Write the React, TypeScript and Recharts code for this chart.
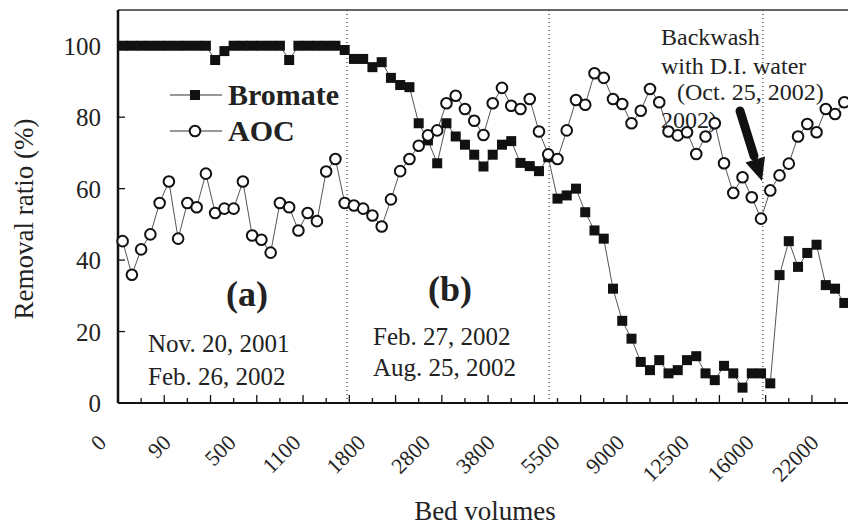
import React from "react";
import {
  LineChart,
  Line,
  XAxis,
  YAxis,
  ReferenceLine,
  Legend,
  Customized,
} from "recharts";

// removal ratio (%) per sampling point
const bromate = [
  100, 100, 100, 100, 100, 100, 100, 100, 100, 100, 96, 98.5, 100, 100, 100, 100,
  100, 100, 96, 100, 100, 100, 100, 100, 98.8, 96.3, 96.3, 94, 95.4, 91, 89, 88.4,
  78.3, 73.5, 67.1, 78.3, 74.6, 72.3, 69.5, 66.2, 69.5, 72.3, 73.3, 67.2, 66.3,
  64.9, 68.8, 57.2, 58.1, 60, 53.4, 48.3, 46, 32, 23, 18, 11.5, 9.2, 12, 8.3, 9.2,
  12, 13.1, 8.3, 6.4, 10.4, 8.3, 4.3, 8.3, 8.3, 5.5, 35.8, 45.3, 38.1, 42, 44.3,
  33, 32, 28,
];

const aoc = [
  45.3, 35.9, 43, 47.2, 56, 62, 46, 56, 54.8, 64.2, 53.2, 54.4, 54.4, 62, 46.9,
  45.7, 42.1, 56, 54.8, 48.3, 53.2, 50.9, 64.8, 68.3, 56, 55.3, 54.4, 52.5, 49.4,
  57, 64.9, 68.3, 72, 74.9, 76.3, 83.9, 86, 82.3, 79, 75, 83.9, 88.2, 83.2, 82.3,
  85.1, 76, 69.6, 68.3, 76.3, 84.8, 83.5, 92.3, 91, 85.1, 83.7, 78.3, 81.8, 87.9,
  84.2, 76, 74.9, 75.8, 69.7, 74.6, 78.3, 67.1, 58.8, 63.2, 57.6, 51.6, 59.5, 63.7,
  67, 74.6, 78.1, 75.8, 82.3, 80.9, 84.2,
];

const xLabels = ["0", "90", "500", "1100", "1800", "2800", "3800", "5500", "9000", "12500", "16000", "22000"];
const labelEvery = 7;
const tickStep = 2.5;
const yTicks = [0, 20, 40, 60, 80, 100];
const periodBreaks = [24.75, 46.6, 69.7];

const data = bromate.map((b, i) => ({ u: i + 0.5, bromate: b, aoc: aoc[i] }));
const xMax = 78.9;

const labelPos = xLabels.map((_, k) => k * labelEvery + 0.5);
const markPos: number[] = [];
for (let t = tickStep; t < xMax; t += tickStep) markPos.push(t);
const allTicks = Array.from(new Set([...markPos, ...labelPos])).sort((a, b) => a - b);

const FONT = "'Liberation Serif', 'Times New Roman', serif";
const near = (a: number, b: number) => Math.abs(a - b) < 1e-6;

const XTick = (props: any) => {
  const { x, y, payload } = props;
  const v = payload.value;
  const isMark = markPos.some((m) => near(m, v));
  const major = isMark && near(v % 5, 0);
  const li = labelPos.findIndex((p) => near(p, v));
  const tx = x - 15;
  const ty = y + 41;
  return (
    <g>
      {isMark && (
        <line x1={x} x2={x} y1={y} y2={y - (major ? 8 : 5)} stroke="#111" strokeWidth={1.3} />
      )}
      {li >= 0 && (
        <text
          x={tx}
          y={ty}
          textAnchor="end"
          transform={`rotate(-45 ${tx} ${ty})`}
          fontSize={22}
          fontFamily={FONT}
          fill="#222"
        >
          {xLabels[li]}
        </text>
      )}
    </g>
  );
};

const YTick = (props: any) => {
  const { x, y, payload } = props;
  return (
    <g>
      <line x1={x} x2={x + 7} y1={y} y2={y} stroke="#111" strokeWidth={1.3} />
      <text x={x - 17} y={y + 9} textAnchor="end" fontSize={25} fontFamily={FONT} fill="#222">
        {payload.value}
      </text>
    </g>
  );
};

const SquareDot = (p: any) => (
  <rect key={`b${p.index}`} x={p.cx - 5} y={p.cy - 5} width={10} height={10} fill="#111" />
);

const CircleDot = (p: any) => (
  <circle key={`a${p.index}`} cx={p.cx} cy={p.cy} r={5.3} fill="#fff" stroke="#111" strokeWidth={2} />
);

const renderLegend = () => (
  <svg width={200} height={80}>
    <line x1={2} x2={54} y1={17} y2={17} stroke="#333" strokeWidth={1} />
    <rect x={22} y={12} width={10} height={10} fill="#111" />
    <text x={60} y={27} fontSize={30} fontWeight="bold" fontFamily={FONT} fill="#222">
      Bromate
    </text>
    <line x1={2} x2={54} y1={53} y2={53} stroke="#333" strokeWidth={1} />
    <circle cx={27} cy={53} r={5.3} fill="#fff" stroke="#111" strokeWidth={2} />
    <text x={60} y={63} fontSize={30} fontWeight="bold" fontFamily={FONT} fill="#222">
      AOC
    </text>
  </svg>
);

const Notes = () => (
  <g fontFamily={FONT} fill="#222">
    <text x={33} y={219} fontSize={27} textAnchor="middle" transform="rotate(-90 33 219)">
      Removal ratio (%)
    </text>
    <text x={485} y={520} fontSize={27} textAnchor="middle">
      Bed volumes
    </text>
    <text x={247} y={306} fontSize={36} fontWeight="bold" textAnchor="middle">
      (a)
    </text>
    <text x={450} y={301} fontSize={36} fontWeight="bold" textAnchor="middle">
      (b)
    </text>
    <text x={148} y={352} fontSize={25}>Nov. 20, 2001</text>
    <text x={148} y={385} fontSize={25}>Feb. 26, 2002</text>
    <text x={373} y={345} fontSize={25}>Feb. 27, 2002</text>
    <text x={373} y={376} fontSize={25}>Aug. 25, 2002</text>
    <text x={661} y={45} fontSize={24}>Backwash</text>
    <text x={661} y={74} fontSize={24}>with D.I. water</text>
    <text x={677} y={100} fontSize={24}>(Oct. 25, 2002)</text>
    <text x={661} y={128} fontSize={24}>2002)</text>
    <line x1={740} y1={111} x2={754} y2={156} stroke="#111" strokeWidth={9} strokeLinecap="round" />
    <polygon points="762,181 745.5,162.5 765,156.5" fill="#111" />
  </g>
);

export default function App() {
  return (
    <div style={{ position: "absolute", left: 0, top: 0, width: 848, height: 529, background: "#fff" }}>
      <LineChart width={848} height={529} data={data} margin={{ top: 10, right: 0, bottom: 0, left: 0 }}>
        <XAxis
          type="number"
          dataKey="u"
          domain={[0, xMax]}
          ticks={allTicks}
          interval={0}
          tick={XTick}
          tickLine={false}
          tickSize={0}
          tickMargin={0}
          height={126}
          axisLine={{ stroke: "#111", strokeWidth: 2 }}
        />
        <YAxis
          domain={[0, 110]}
          ticks={yTicks}
          interval={0}
          tick={YTick}
          tickLine={false}
          tickSize={0}
          tickMargin={0}
          width={118}
          axisLine={{ stroke: "#111", strokeWidth: 2.5 }}
        />
        <ReferenceLine y={110} stroke="#333" strokeWidth={1.5} />
        {periodBreaks.map((b) => (
          <ReferenceLine key={b} x={b} stroke="#333" strokeWidth={1.2} strokeDasharray="1 3" />
        ))}
        <Legend
          layout="vertical"
          align="center"
          verticalAlign="middle"
          content={renderLegend}
          wrapperStyle={{ left: 168, top: 78, width: 200, height: 80 }}
        />
        <Line
          dataKey="bromate"
          stroke="#555"
          strokeWidth={1}
          dot={SquareDot}
          activeDot={false}
          isAnimationActive={false}
        />
        <Line
          dataKey="aoc"
          stroke="#555"
          strokeWidth={1}
          dot={CircleDot}
          activeDot={false}
          isAnimationActive={false}
        />
        <Customized component={Notes} />
      </LineChart>
    </div>
  );
}
